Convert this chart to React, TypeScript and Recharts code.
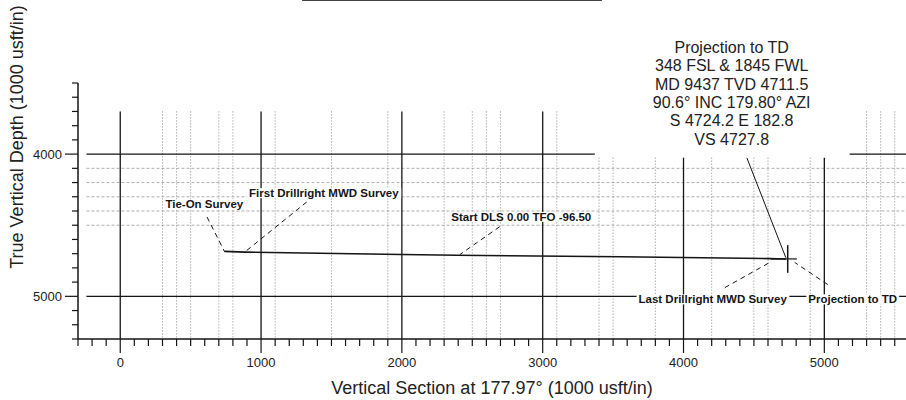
import React, { useLayoutEffect, useRef, useState } from 'react';
import { ComposedChart, Line, XAxis, YAxis, ReferenceLine, ReferenceDot, Label } from 'recharts';

const FONT = '"Liberation Sans", Arial, Helvetica, sans-serif';
const INK = '#151515';

// well path: vertical section (usft) and true vertical depth (usft)
const vsValues = [742, 886, 2000, 2390, 3550, 4612, 4728];
const tvdValues = [4684, 4689, 4706, 4711, 4722, 4735, 4737];

// axis ticks
const xLabelTicks = [0, 1000, 2000, 3000, 4000, 5000];
const yLabelTicks = [4000, 5000];
const xMinorTicks = Array.from({ length: 59 }, (_, i) => -300 + i * 100);
const yMinorTicks = Array.from({ length: 19 }, (_, i) => 3500 + i * 100);

// grid on the plot sheet
const solidVerticals = [0, 1000, 2000, 3000, 4000, 5000];
const dottedVerticals = [300, 400, 500, 700, 800, 1100, 1500, 1900, 2300, 2500, 2600, 2700, 3100, 3400, 3500, 3800, 4200, 4500, 4600, 4900, 5300, 5400, 5500];
const lightHorizontals = [4100, 4200, 4300, 4400, 4500];

// survey labels and their leaders
const labelText = ['Tie-On Survey', 'First Drillright MWD Survey', 'Start DLS 0.00 TFO -96.50', 'Last Drillright MWD Survey', 'Projection to TD'];
const labelVs = [597, 1446, 2848, 4207, 5202];
const labelTvd = [4352, 4273, 4440, 5020, 5020];
const leaderFromVs = [616, 1324, 2695, 4293, 5024];
const leaderFromTvd = [4442, 4337, 4510, 4939, 4917];
const leaderToVs = [742, 885, 2411, 4612, 4790];
const leaderToTvd = [4688, 4688, 4707, 4762, 4762];

// projection to TD callout
const calloutLines = ['Projection to TD', '348 FSL & 1845 FWL', 'MD 9437 TVD 4711.5', '90.6° INC 179.80° AZI', 'S 4724.2 E 182.8', 'VS 4727.8'];
const calloutVs = 4342;
const calloutTvd = 3571;
const calloutLeader = [{ x: 4450, y: 4027 }, { x: 4727, y: 4729 }];

const data = vsValues.map((vs, i) => ({ vs, tvd: tvdValues[i] }));

const X_MIN = -300;
const X_MAX = 5580;
const GRID_LEFT = -240;
const GRID_TOP = 3700;
const GAP_FROM = 3370;
const GAP_TO = 5180;
const GAP_TOP = 4025;

const BoxedText = ({ cx, cy, text }: { cx: number; cy: number; text: string }) => {
    const ref = useRef<SVGTextElement>(null);
    const [box, setBox] = useState<{ x: number; y: number; width: number; height: number } | null>(null);
    useLayoutEffect(() => {
        if (ref.current) {
            const b = ref.current.getBBox();
            setBox({ x: b.x, y: b.y, width: b.width, height: b.height });
        }
    }, [cx, cy, text]);
    return (
        <g>
            {box && <rect x={box.x - 2} y={box.y + 1} width={box.width + 4} height={box.height - 2} fill="#fff" />}
            <text ref={ref} x={cx} y={cy + 4.2} textAnchor="middle" fontFamily={FONT} fontWeight="bold" fontSize={11.5} fill={INK}>
                {text}
            </text>
        </g>
    );
};

const XTick = (props: any) => {
    const { x, y, payload } = props;
    const major = xLabelTicks.includes(payload.value);
    return (
        <g>
            <line x1={x} y1={y} x2={x} y2={y + (major ? 14 : 7)} stroke={INK} strokeWidth={1.2} />
            {major && (
                <text x={x} y={y + 28} textAnchor="middle" fontFamily={FONT} fontSize={13} fill="#222">
                    {payload.value}
                </text>
            )}
        </g>
    );
};

const YTick = (props: any) => {
    const { x, y, payload } = props;
    const major = yLabelTicks.includes(payload.value);
    return (
        <g>
            <line x1={x - (major ? 13 : 6)} y1={y} x2={x} y2={y} stroke={INK} strokeWidth={1.2} />
            {major && (
                <text x={x - 16} y={y + 4.5} textAnchor="end" fontFamily={FONT} fontSize={13} fill="#222">
                    {payload.value}
                </text>
            )}
        </g>
    );
};

const verticalTop = (v: number) => (v > GAP_FROM && v < GAP_TO ? GAP_TOP : GRID_TOP);

export default function App() {
    return (
        <div style={{ position: 'absolute', left: 0, top: 0, width: 906, height: 400, background: '#fff' }}>
            <div style={{ position: 'absolute', left: 302, top: 0, width: 300, height: 0, borderTop: '1.5px solid #444' }} />
            <ComposedChart width={906} height={400} data={data} margin={{ top: 83, right: 0, bottom: 0, left: 0 }}>
                <XAxis
                    type="number"
                    dataKey="vs"
                    domain={[X_MIN, X_MAX]}
                    ticks={xMinorTicks}
                    interval={0}
                    height={61}
                    tickSize={0}
                    tickMargin={0}
                    tickLine={false}
                    tick={<XTick />}
                    axisLine={{ stroke: INK, strokeWidth: 1.5 }}
                    allowDataOverflow
                >
                    <Label
                        content={(p: any) => {
                            const vb = p.viewBox || { x: 78, y: 339, width: 828 };
                            return (
                                <text x={vb.x + vb.width / 2} y={vb.y + 55} textAnchor="middle" fontFamily={FONT} fontSize={18} fill="#222">
                                    Vertical Section at 177.97° (1000 usft/in)
                                </text>
                            );
                        }}
                    />
                </XAxis>
                <YAxis
                    type="number"
                    reversed
                    domain={[3500, 5300]}
                    ticks={yMinorTicks}
                    interval={0}
                    width={78}
                    tickSize={0}
                    tickMargin={0}
                    tickLine={false}
                    tick={<YTick />}
                    axisLine={{ stroke: INK, strokeWidth: 1.5 }}
                    allowDataOverflow
                >
                    <Label
                        content={(p: any) => {
                            const vb = p.viewBox || { x: 0, y: 83 };
                            const cx = vb.x + 17;
                            const cy = vb.y + 54;
                            return (
                                <text x={cx} y={cy} transform={`rotate(-90, ${cx}, ${cy})`} textAnchor="middle" dominantBaseline="central" fontFamily={FONT} fontSize={18} fill="#222">
                                    True Vertical Depth (1000 usft/in)
                                </text>
                            );
                        }}
                    />
                </YAxis>

                {lightHorizontals.map((v) => (
                    <ReferenceLine key={`lh${v}`} segment={[{ x: GRID_LEFT, y: v }, { x: X_MAX, y: v }]} stroke="#9a9a9a" strokeWidth={0.8} strokeDasharray="3 2" />
                ))}
                {dottedVerticals.map((v) => (
                    <ReferenceLine key={`dv${v}`} segment={[{ x: v, y: verticalTop(v) }, { x: v, y: 5300 }]} stroke="#8a8a8a" strokeWidth={1} strokeDasharray="1 2" />
                ))}
                {solidVerticals.map((v) => (
                    <ReferenceLine key={`sv${v}`} segment={[{ x: v, y: verticalTop(v) }, { x: v, y: 5300 }]} stroke={INK} strokeWidth={1.3} />
                ))}
                <ReferenceLine segment={[{ x: GRID_LEFT, y: 4000 }, { x: GAP_FROM, y: 4000 }]} stroke={INK} strokeWidth={1.2} />
                <ReferenceLine segment={[{ x: GAP_TO, y: 4000 }, { x: X_MAX, y: 4000 }]} stroke={INK} strokeWidth={1.2} />
                <ReferenceLine segment={[{ x: GRID_LEFT, y: 5000 }, { x: X_MAX, y: 5000 }]} stroke={INK} strokeWidth={1.2} />

                {/* TD marker */}
                <ReferenceLine segment={[{ x: 4740, y: 4640 }, { x: 4740, y: 4835 }]} stroke={INK} strokeWidth={1.5} />
                <ReferenceLine segment={[{ x: 4620, y: 4737 }, { x: 4805, y: 4737 }]} stroke={INK} strokeWidth={1.2} />

                {leaderFromVs.map((v, i) => (
                    <ReferenceLine
                        key={`ld${i}`}
                        segment={[{ x: v, y: leaderFromTvd[i] }, { x: leaderToVs[i], y: leaderToTvd[i] }]}
                        stroke={INK}
                        strokeWidth={1}
                        strokeDasharray="5 4"
                    />
                ))}
                <ReferenceLine segment={calloutLeader} stroke={INK} strokeWidth={1} />

                <Line type="linear" dataKey="tvd" stroke={INK} strokeWidth={1.6} dot={false} isAnimationActive={false} />

                {labelText.map((t, i) => (
                    <ReferenceDot
                        key={`lb${i}`}
                        x={labelVs[i]}
                        y={labelTvd[i]}
                        r={1}
                        ifOverflow="visible"
                        shape={(p: any) => <BoxedText cx={p.cx} cy={p.cy} text={t} />}
                    />
                ))}
                <ReferenceDot
                    x={calloutVs}
                    y={calloutTvd}
                    r={1}
                    ifOverflow="visible"
                    shape={(p: any) => (
                        <text textAnchor="middle" fontFamily={FONT} fontSize={16} fill="#222">
                            {calloutLines.map((line, i) => (
                                <tspan key={i} x={p.cx} y={p.cy + (i - 2.5) * 18.3 + 5.7}>
                                    {line}
                                </tspan>
                            ))}
                        </text>
                    )}
                />
            </ComposedChart>
        </div>
    );
}
